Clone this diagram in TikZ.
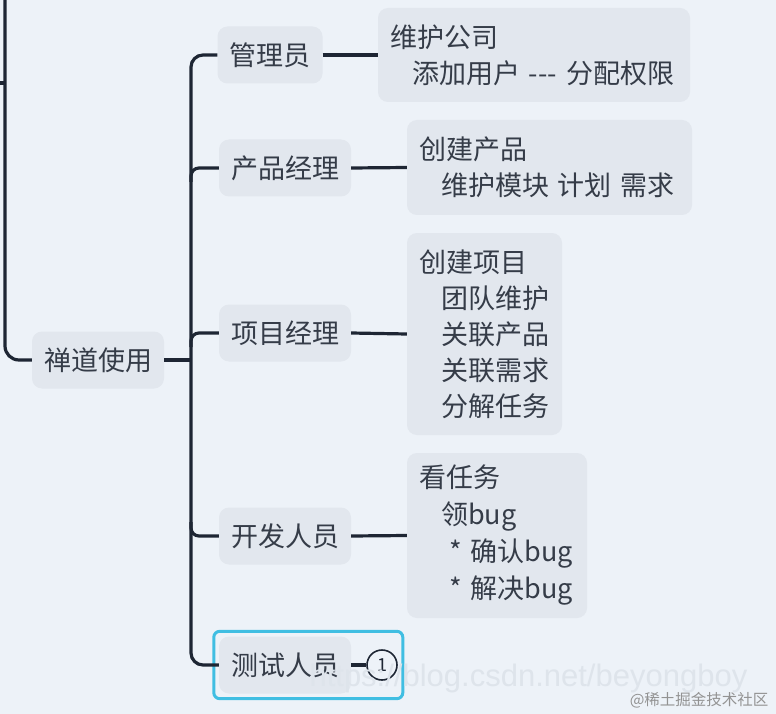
\documentclass[tikz,border=0pt]{standalone}
\usepackage{fontspec}
\setmainfont{Noto Sans CJK SC}
\newfontfamily\wmfont{Liberation Sans}
\usepackage{tikz}
\usetikzlibrary{positioning, fit, calc}

\definecolor{canvas}{RGB}{237,242,248}
\definecolor{tile}{RGB}{226,231,238}
\definecolor{ink}{RGB}{30,38,52}
\definecolor{pick}{RGB}{64,190,226}
\definecolor{mark}{RGB}{222,228,235}

\begin{document}
\begin{tikzpicture}[
      x=1pt, y=-1pt,
      font=\fontsize{27}{36}\selectfont,
      topic/.style={fill=tile, rounded corners=10pt, text=ink!90, inner xsep=12pt, minimum height=57pt},
      note/.style={fill=tile, rounded corners=10pt, text=ink!90, inner xsep=12pt, align=left},
      link/.style={draw=ink, line width=3.2pt},
    ]
    \fill[canvas] (0,0) rectangle (776,714);
    \useasboundingbox (0,0) rectangle (776,714);

    \node[topic] (root) at (98,360) {禅道使用};
    \node[topic] (admin) at (270,55) {管理员};
    \node[topic] (pm) at (285,168) {产品经理};
    \node[topic] (proj) at (285,333) {项目经理};
    \node[topic] (dev) at (285,536) {开发人员};
    \node[topic] (qa) at (285,665) {测试人员};

    \node[note, text width=288pt, minimum height=94pt] (admin-d) at (534,55)
      {维护公司\\\hspace*{22pt}添加用户 -{}-{}- 分配权限};
    \node[note, text width=261pt, minimum height=95pt] (pm-d) at (549.5,167.5)
      {创建产品\\\hspace*{22pt}维护模块 计划 需求};
    \node[note, text width=131pt, minimum height=202pt] (proj-d) at (484.5,334)
      {创建项目\\\hspace*{22pt}团队维护\\\hspace*{22pt}关联产品\\\hspace*{22pt}关联需求\\\hspace*{22pt}分解任务};
    \node[note, text width=156pt, minimum height=165pt, font=\fontsize{27}{37}\selectfont] (dev-d) at (497,535.5)
      {看任务\\\hspace*{22pt}领bug\\\hspace*{30pt}* 确认bug\\\hspace*{30pt}* 解决bug};

    \node[draw=ink, circle, line width=1.6pt, minimum size=30pt, inner sep=0pt,
      text=ink, font=\fontsize{18}{18}\selectfont] (badge) at (382,665) {1};
    \node[fit=(qa)(badge), draw=pick, line width=3pt, rounded corners=6pt, inner sep=5pt] (focus) {};

    \coordinate (fork) at (191,360);
    \coordinate (top) at (5,0);
    \coordinate (stub) at (0,83);
    \draw[link, rounded corners=14pt] (top) |- (root.west);
    \draw[link] (stub) -- (stub -| top);
    \draw[link] (root) -- (fork);
    \draw[link, rounded corners=12pt] (admin.west) -| (fork) |- (qa.west);
    \foreach \n/\s in {pm/14, proj/14, dev/-14}
      \draw[link, rounded corners=8pt] ($(fork |- \n.west)+(0,\s)$) |- (\n.west);
    \foreach \n in {admin, pm, proj, dev}
      \draw[link] (\n.east) -- (\n-d.west);
    \draw[link] (qa.east) -- (badge.west);

    \node[font=\wmfont\fontsize{31}{31}\selectfont, text=mark, anchor=west] (wm) at (306,678) {https://blog.csdn.net/beyongboy};
    \node[font=\fontsize{15.5}{16}\selectfont, text=gray!85, anchor=east] (credit) at (772,700) {@稀土掘金技术社区};
  \end{tikzpicture}
\end{document}
